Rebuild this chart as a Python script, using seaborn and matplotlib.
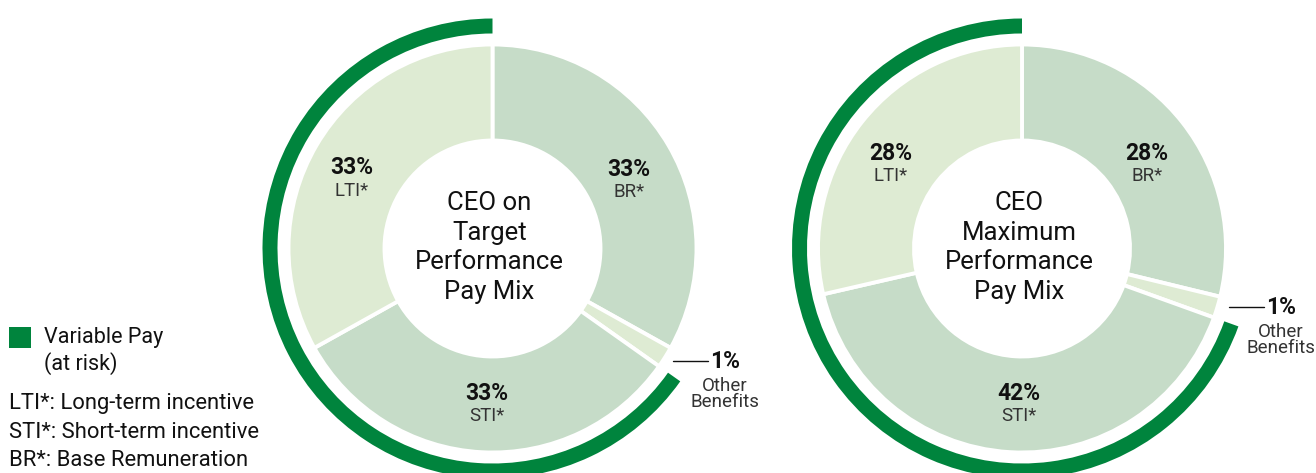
import matplotlib
matplotlib.use("Agg")
import matplotlib.pyplot as plt
import seaborn as sns

# ---- data ----
segments = ["BR*", "Other Benefits", "STI*", "LTI*"]
target_values = [33.1, 1.7, 32.1, 33.1]
maximum_values = [28.8, 1.7, 40.9, 28.6]
target_pct_labels = ["33%", "1%", "33%", "33%"]
maximum_pct_labels = ["28%", "1%", "42%", "28%"]
chart_titles = ["CEO on\nTarget\nPerformance\nPay Mix", "CEO\nMaximum\nPerformance\nPay Mix"]
legend_variable = ["Variable Pay", "(at risk)"]
legend_notes = ["LTI*: Long-term incentive", "STI*: Short-term incentive", "BR*: Base Remuneration"]

# ---- style ----
sns.set_theme(style="white")
plt.rcParams["font.family"] = ["Roboto", "DejaVu Sans"]

DARK = "#00843D"
MID = "#C6DCC8"
LIGHT = "#DEEBD3"
seg_colors = [MID, LIGHT, MID, LIGHT]

W, H = 1316, 473
fig = plt.figure(figsize=(W / 100, H / 100), dpi=100)
ax = fig.add_axes([0, 0, 1, 1])


def Y(y):
    return H - y


def donut(values, pct_labels, title, cx, cy, pos):
    c = (cx, Y(cy))
    ax.pie(values, colors=seg_colors, startangle=90, counterclock=False,
           center=c, radius=204, frame=True,
           wedgeprops=dict(width=96, edgecolor="white", linewidth=2.8))
    variable = [values[0] + values[1], values[2] + values[3]]
    ax.pie(variable, colors=["none", DARK], startangle=90, counterclock=False,
           center=c, radius=230, frame=True,
           wedgeprops=dict(width=15, linewidth=0))
    # labels: BR, STI, LTI
    for i in (0, 2, 3):
        px, py = pos[i]
        ax.text(px, Y(py - 11), pct_labels[i], ha="center", va="center",
                fontsize=16.5, fontweight="bold", color="#111111")
        ax.text(px, Y(py + 12), segments[i], ha="center", va="center",
                fontsize=13.5, color="#333333")
    # other benefits
    ox, oy = pos[1]
    ax.plot([ox - 52, ox - 17], [Y(oy), Y(oy)], color="#111111", lw=1)
    ax.text(ox, Y(oy), pct_labels[1], ha="center", va="center",
            fontsize=16.5, fontweight="bold", color="#111111")
    ax.text(ox, Y(oy + 33), "Other\nBenefits", ha="center", va="center",
            fontsize=13.5, color="#333333", linespacing=0.9)
    ax.text(cx - 3, Y(cy - 1), title, ha="center", va="center",
            fontsize=18.5, color="#111111", linespacing=1.3)


donut(target_values, target_pct_labels, chart_titles[0], 492.5, 248.5,
      {0: (629, 180), 1: (725, 361), 2: (486.5, 404), 3: (352, 179)})
donut(maximum_values, maximum_pct_labels, chart_titles[1], 1022, 248.5,
      {0: (1147, 164), 1: (1281, 307), 2: (1019, 404), 3: (891, 164)})

ax.set_xlim(0, W)
ax.set_ylim(0, H)
ax.set_aspect("equal")
ax.axis("off")

# legend
ax.add_patch(plt.Rectangle((9, Y(348)), 22, 21, color=DARK, lw=0))
ax.text(44, Y(337), legend_variable[0], ha="left", va="center", fontsize=15.5, color="#111111")
ax.text(44, Y(364), legend_variable[1], ha="left", va="center", fontsize=15.5, color="#111111")
for i, note in enumerate(legend_notes):
    ax.text(9, Y(403 + i * 29), note, ha="left", va="center", fontsize=15.8, color="#111111")

fig.savefig("out.png", dpi=100)
